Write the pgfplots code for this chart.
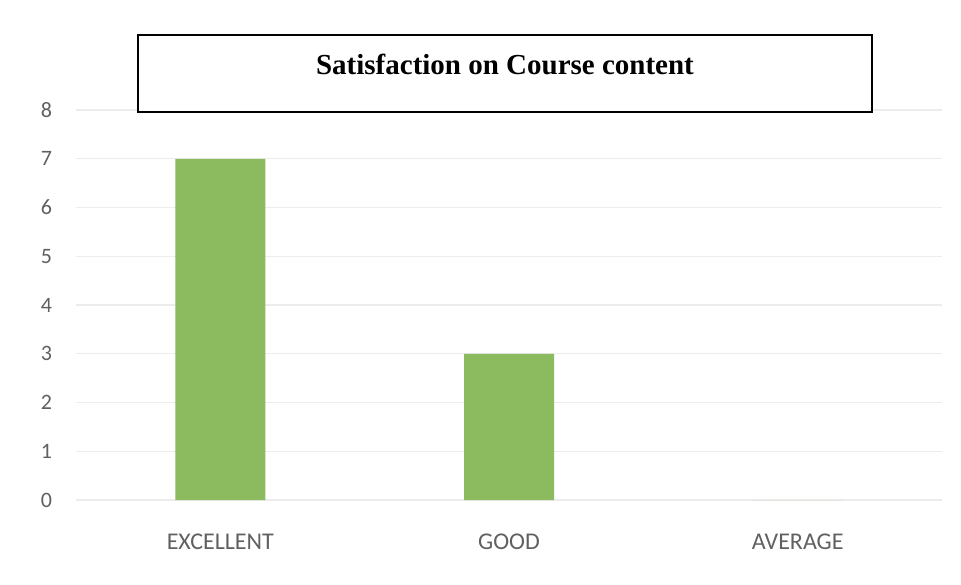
\documentclass[border=0pt]{standalone}
\usepackage{pgfplots}
\pgfplotsset{compat=1.18}
\usepackage{fontspec}
\setmainfont{Liberation Serif}
\newfontfamily\carlito{Carlito}
\definecolor{barGreen}{RGB}{140,186,94}
\definecolor{tickGray}{RGB}{96,96,96}
\definecolor{gridGray}{RGB}{236,236,236}
\begin{document}
\begin{tikzpicture}
\path[use as bounding box] (0pt,0pt) rectangle (480.5pt,292pt);
\begin{axis}[
  at={(38pt,42pt)}, anchor=south west,
  scale only axis, width=433pt, height=195pt,
  xmin=-0.5, xmax=2.5, ymin=0, ymax=8,
  axis line style={draw=none},
  tick style={draw=none},
  ymajorgrids, grid style={gridGray, line width=0.6pt},
  xtick={0,1,2}, xticklabels={EXCELLENT,GOOD,AVERAGE},
  ytick={0,1,...,8},
  /pgf/number format/assume math mode=true,
  ticklabel style={text=tickGray},
  yticklabel style={font=\carlito\fontsize{11}{13}\selectfont, xshift=-8.5pt},
  xticklabel style={font=\carlito\fontsize{12}{14}\selectfont, yshift=-13.5pt},
]
\addplot[ybar, bar width=45pt, fill=barGreen, draw=none] coordinates {(0,7) (1,3) (2,0)};
\end{axis}
\draw[line width=1.2pt, fill=white] (69pt,236pt) rectangle (436pt,274.5pt);
\node[font=\bfseries\fontsize{14.5}{17}\selectfont] at (252.5pt,260pt) {Satisfaction on Course content};
\end{tikzpicture}
\end{document}
